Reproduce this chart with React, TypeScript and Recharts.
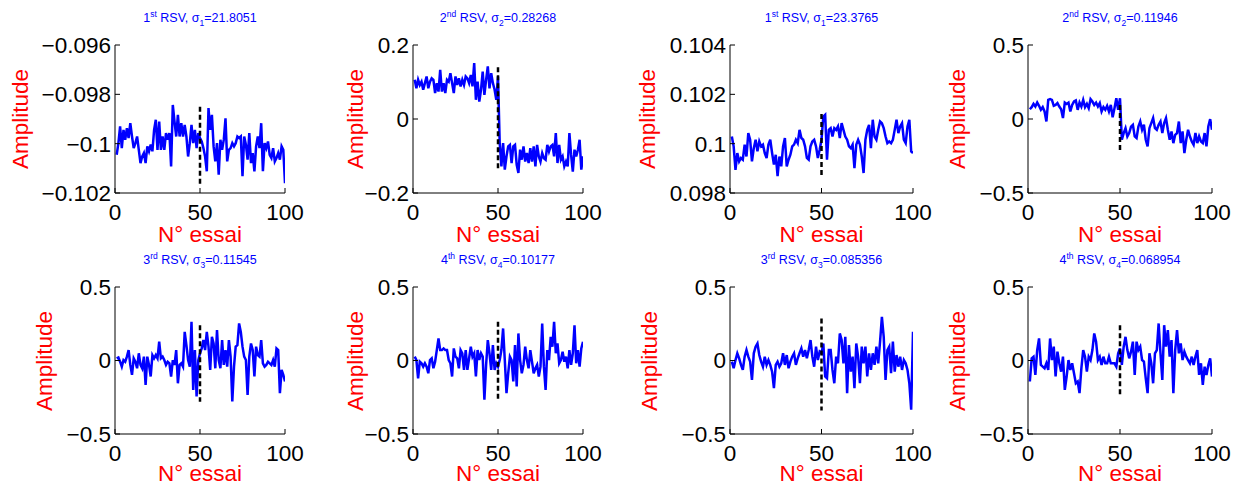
import React from 'react';
import { LineChart, Line, XAxis, YAxis } from 'recharts';

const FONT = '"Liberation Sans", Arial, Helvetica, sans-serif';

// trial numbers (categories)
const trials = Array.from({ length: 100 }, (_, i) => i + 1);
const xTicks = [0, 50, 100];
const xTickLabels = ['0', '50', '100'];
const changePoint = 50;

// y ticks / labels
const ticksRsv1Left = [-0.102, -0.1, -0.098, -0.096];
const labelsRsv1Left = ['−0.102', '−0.1', '−0.098', '−0.096'];
const ticksRsv2Left = [-0.2, 0, 0.2];
const labelsRsv2Left = ['−0.2', '0', '0.2'];
const ticksRsv1Right = [0.098, 0.1, 0.102, 0.104];
const labelsRsv1Right = ['0.098', '0.1', '0.102', '0.104'];
const ticksHalf = [-0.5, 0, 0.5];
const labelsHalf = ['−0.5', '0', '0.5'];

// titles
const ordinals = ['1', '2', '1', '2', '3', '4', '3', '4'];
const ordinalSuffix = ['st', 'nd', 'st', 'nd', 'rd', 'th', 'rd', 'th'];
const sigmaValues = ['21.8051', '0.28268', '23.3765', '0.11946', '0.11545', '0.10177', '0.085356', '0.068954'];

// dashed change-point marker spans [top, bottom]
const dashSpans = [
  [-0.0985, -0.1017],
  [0.14, -0.14],
  [0.1012, 0.0987],
  [0.095, -0.23],
  [0.24, -0.28],
  [0.263, -0.267],
  [0.285, -0.34],
  [0.24, -0.245],
];

const rsv1Left = [
  -0.10045, -0.09998, -0.0993, -0.10018, -0.09944, -0.09984, -0.09937, -0.09977, -0.09917, -0.09971,
  -0.10018, -0.09998, -0.09971, -0.10025, -0.10079, -0.10052, -0.10038, -0.10079, -0.10011, -0.10031,
  -0.10004, -0.10031, -0.09944, -0.09903, -0.10025, -0.0991, -0.10025, -0.09971, -0.10025, -0.09957,
  -0.09984, -0.09957, -0.10092, -0.09843, -0.0991, -0.09971, -0.09883, -0.09971, -0.09917, -0.09971,
  -0.09924, -0.09971, -0.10052, -0.09998, -0.09924, -0.09998, -0.09944, -0.10018, -0.09957, -0.09977,
  -0.09991, -0.10018, -0.10052, -0.10112, -0.09856, -0.09944, -0.09883, -0.10011, -0.10072, -0.09998,
  -0.10126, -0.09984, -0.10025, -0.09984, -0.09897, -0.10072, -0.10025, -0.10018, -0.09998, -0.10011,
  -0.09998, -0.09971, -0.09977, -0.09971, -0.10132, -0.09971, -0.10004, -0.10065, -0.09957, -0.10079,
  -0.10038, -0.10112, -0.10011, -0.09971, -0.10018, -0.09917, -0.10112, -0.09998, -0.10018, -0.09991,
  -0.10045, -0.10058, -0.10018, -0.10072, -0.10058, -0.10038, -0.10065, -0.10011, -0.10025, -0.1016,
];

const rsv2Left = [
  0.106, 0.083, 0.106, 0.092, 0.101, 0.079, 0.097, 0.115, 0.083, 0.101,
  0.11, 0.106, 0.07, 0.097, 0.074, 0.133, 0.074, 0.097, 0.07, 0.106,
  0.101, 0.124, 0.097, 0.07, 0.115, 0.092, 0.11, 0.088, 0.106, 0.092,
  0.115, 0.11, 0.097, 0.119, 0.088, 0.151, 0.052, 0.101, 0.047, 0.079,
  0.128, 0.065, 0.106, 0.142, 0.083, 0.124, 0.097, 0.079, 0.052, 0.115,
  -0.065, -0.128, -0.065, -0.137, -0.101, -0.074, -0.07, -0.119, -0.074, -0.07,
  -0.124, -0.146, -0.083, -0.11, -0.074, -0.115, -0.092, -0.119, -0.079, -0.115,
  -0.074, -0.128, -0.07, -0.101, -0.115, -0.092, -0.106, -0.11, -0.07, -0.088,
  -0.074, -0.07, -0.101, -0.038, -0.119, -0.07, -0.11, -0.101, -0.128, -0.115,
  -0.128, -0.038, -0.097, -0.142, -0.083, -0.101, -0.083, -0.056, -0.137, -0.101,
];

const rsv1Right = [
  0.10029, 0.09989, 0.09894, 0.09962, 0.09928, 0.09942, 0.09935, 0.09996, 0.09948, 0.10043,
  0.10016, 0.09928, 0.09982, 0.10016, 0.09969, 0.10009, 0.09989, 0.09996, 0.09962, 0.09942,
  0.09996, 0.10016, 0.09962, 0.09915, 0.09955, 0.09868, 0.09948, 0.09908, 0.09989, 0.10023,
  0.09908, 0.09935, 0.09955, 0.09989, 0.09996, 0.10016, 0.10002, 0.10056, 0.10023, 0.10016,
  0.09989, 0.09942, 0.09935, 0.09989, 0.10009, 0.10016, 0.09989, 0.09942, 0.09975, 0.10016,
  0.1011, 0.10117, 0.09935, 0.10056, 0.10063, 0.10029, 0.10063, 0.10056, 0.1007, 0.10023,
  0.10083, 0.10056, 0.10029, 0.10016, 0.09989, 0.09982, 0.09996, 0.09901, 0.09996, 0.10016,
  0.09996, 0.09948, 0.09881, 0.10016, 0.10056, 0.10076, 0.09982, 0.10097, 0.10029, 0.10016,
  0.10056, 0.1009, 0.10083, 0.10063, 0.10029, 0.10002, 0.10009, 0.10002, 0.10016, 0.10056,
  0.10097, 0.10043, 0.1007, 0.10083, 0.10016, 0.10002, 0.1007, 0.10097, 0.09969, 0.09962,
];

const rsv2Right = [
  0.066, 0.08, 0.102, 0.084, 0.111, 0.089, 0.062, 0.08, 0.051, -0.017,
  0.129, 0.134, 0.129, 0.089, 0.095, 0.107, 0.084, 0.066, 0.006, 0.111,
  0.102, 0.111, 0.051, 0.095, 0.118, 0.125, 0.062, 0.111, 0.084, 0.129,
  0.08, 0.102, 0.073, 0.134, 0.118, 0.095, 0.111, 0.084, 0.107, 0.051,
  0.08, 0.062, 0.089, 0.051, 0.095, 0.012, 0.073, 0.14, 0.062, 0.14,
  -0.14, -0.095, -0.062, -0.118, -0.095, -0.051, -0.039, -0.118, -0.129, -0.051,
  -0.017, -0.073, -0.039, -0.14, -0.185, -0.062, -0.028, 0.006, -0.062, -0.073,
  -0.039, -0.017, -0.095, -0.028, 0.006, -0.073, -0.14, -0.084, -0.163, -0.107,
  -0.095, -0.017, -0.163, -0.084, -0.23, -0.14, -0.073, -0.118, -0.152, -0.174,
  -0.095, -0.163, -0.118, -0.152, -0.163, -0.095, -0.185, -0.051, -0.001, -0.073,
];

const rsv3Left = [
  0.015, 0.021, -0.008, -0.042, 0.003, -0.008, 0.026, 0.071, -0.03, -0.098,
  0.015, -0.008, -0.053, 0.049, -0.03, -0.053, 0.026, -0.166, 0.026, -0.03,
  -0.109, 0.037, 0.015, 0.037, 0.015, 0.128, 0.015, 0.026, 0.003, -0.03,
  -0.008, -0.019, -0.109, 0.003, -0.03, 0.071, -0.155, -0.03, -0.019, -0.042,
  0.195, 0.105, 0.003, -0.042, 0.263, -0.2, 0.071, -0.245, 0.003, 0.049,
  0.082, 0.139, 0.071, 0.195, 0.094, -0.064, 0.161, 0.116, -0.053, 0.207,
  0.003, -0.053, 0.139, -0.03, 0.071, -0.042, 0.139, 0.026, -0.279, -0.042,
  0.094, 0.105, 0.252, 0.195, 0.094, 0.026, 0.003, -0.234, 0.026, 0.116,
  0.071, -0.109, 0.094, 0.037, 0.026, 0.139, -0.019, -0.042, -0.03, -0.008,
  -0.019, -0.03, 0.003, -0.042, 0.082, 0.071, -0.222, -0.064, -0.098, -0.143,
];

const rsv4Left = [
  0.026, 0.003, -0.121, -0.008, -0.019, -0.042, -0.019, -0.042, -0.087, 0.003,
  0.015, -0.053, -0.008, 0.071, 0.15, 0.071, 0.071, 0.082, 0.071, 0.071,
  0.003, -0.019, -0.109, 0.082, 0.026, 0.015, -0.053, 0.071, 0.049, -0.064,
  0.071, -0.064, 0.015, 0.094, 0.026, 0.049, -0.109, 0.071, 0.003, 0.049,
  0.026, -0.267, -0.03, 0.139, 0.049, -0.064, 0.105, -0.064, -0.019, -0.042,
  0.003, 0.071, 0.218, 0.003, -0.222, -0.087, 0.026, 0.003, -0.143, 0.105,
  -0.177, 0.184, 0.003, -0.087, -0.03, 0.094, 0.003, -0.053, 0.071, -0.008,
  -0.087, -0.053, -0.03, -0.109, -0.042, 0.252, -0.042, -0.2, 0.071, 0.003,
  0.161, 0.094, 0.263, 0.049, 0.116, -0.019, 0.003, 0.06, -0.008, 0.026,
  -0.053, 0.071, -0.03, 0.049, 0.24, -0.019, 0.071, -0.042, 0.082, 0.128,
];

const rsv3Right = [
  -0.008, -0.053, 0.003, 0.049, 0.015, -0.03, -0.064, 0.026, 0.071, 0.026,
  -0.008, -0.132, 0.049, 0.094, 0.116, 0.037, -0.008, -0.042, 0.026, -0.03,
  0.003, -0.03, -0.076, -0.188, -0.03, -0.008, -0.042, -0.019, 0.049, -0.03,
  0.037, -0.053, -0.008, 0.026, 0.049, -0.03, 0.015, 0.049, 0.082, 0.026,
  0.071, 0.015, 0.071, 0.139, 0.026, -0.042, 0.094, 0.003, 0.06, 0.049,
  0.116, -0.109, -0.121, 0.071, 0.071, -0.064, -0.155, 0.026, -0.019, 0.184,
  0.139, -0.019, 0.161, -0.222, 0.105, -0.076, 0.026, -0.188, 0.116, 0.026,
  -0.155, 0.094, -0.019, 0.094, -0.109, 0.049, -0.064, 0.049, -0.03, 0.094,
  -0.019, 0.128, 0.297, 0.161, -0.132, 0.071, 0.094, -0.087, 0.128, -0.076,
  0.037, -0.042, 0.026, -0.064, 0.003, -0.019, -0.064, -0.155, -0.335, 0.195,
];

const rsv4Right = [
  -0.143, 0.015, 0.026, -0.098, 0.071, 0.15, -0.03, -0.042, -0.053, -0.019,
  -0.064, 0.15, 0.003, 0.094, -0.109, 0.06, -0.019, -0.076, 0.026, -0.2,
  -0.109, 0.003, -0.064, -0.019, -0.087, -0.155, -0.143, -0.222, -0.053, 0.071,
  0.026, -0.076, 0.026, 0.003, 0.071, 0.184, 0.128, 0.003, 0.026, -0.03,
  0.026, -0.019, -0.019, 0.026, -0.019, -0.019, -0.019, -0.042, 0.049, 0.082,
  -0.03, 0.094, 0.161, 0.071, 0.015, 0.06, 0.128, -0.098, 0.128, 0.071,
  0.094, 0.003, -0.008, -0.121, -0.222, 0.049, -0.019, -0.155, 0.049, 0.071,
  0.252, 0.049, -0.132, 0.24, 0.094, 0.207, 0.026, 0.139, -0.222, 0.071,
  0.207, 0.049, 0.116, 0.003, 0.06, 0.026, 0.003, -0.019, 0.026, -0.03,
  0.026, 0.071, -0.098, -0.019, -0.166, -0.042, -0.098, -0.03, 0.015, -0.109,
];

// layout
const LEFT = 110;
const RIGHT = 25;
const TOP = 15;
const BOTTOM = 40;
const colBoxes = [
  [115, 285],
  [413, 583],
  [730, 913],
  [1028, 1212],
];
const rowBoxes = [
  [45, 193],
  [287, 434],
];
const titleY = [18, 260];
const xLabelY = [235, 474];
const yLabelX = [21, 356, 648, 958, 45, 356, 650, 958];

const seriesList = [rsv1Left, rsv2Left, rsv1Right, rsv2Right, rsv3Left, rsv4Left, rsv3Right, rsv4Right];
const tickList = [ticksRsv1Left, ticksRsv2Left, ticksRsv1Right, ticksHalf, ticksHalf, ticksHalf, ticksHalf, ticksHalf];
const labelList = [labelsRsv1Left, labelsRsv2Left, labelsRsv1Right, labelsHalf, labelsHalf, labelsHalf, labelsHalf, labelsHalf];

function Panel({ idx }: { idx: number }) {
  const row = idx < 4 ? 0 : 1;
  const col = idx % 4;
  const [x0, x1] = colBoxes[col];
  const [y0, y1] = rowBoxes[row];
  const w = x1 - x0 + LEFT + RIGHT;
  const h = y1 - y0 + TOP + BOTTOM;
  const values = seriesList[idx];
  const yTicks = tickList[idx];
  const yLabels = labelList[idx];
  const domain = [yTicks[0], yTicks[yTicks.length - 1]];
  const data = trials.map((t, i) => ({ x: t, y: values[i] }));
  const dash = [
    { x: changePoint, y: dashSpans[idx][0] },
    { x: changePoint, y: dashSpans[idx][1] },
  ];
  const cx = (x0 + x1) / 2;
  const cy = (y0 + y1) / 2;
  const tickStyle = { fill: '#000', fontSize: 22.5, fontFamily: FONT };
  return (
    <>
      <div style={{ position: 'absolute', left: x0 - LEFT, top: y0 - TOP, width: w, height: h }}>
        <LineChart width={w} height={h} data={data} margin={{ top: TOP, right: RIGHT, bottom: 0, left: 0 }}>
          <XAxis
            xAxisId="b"
            type="number"
            dataKey="x"
            domain={[0, 100]}
            ticks={xTicks}
            interval={0}
            allowDataOverflow
            height={BOTTOM}
            tickSize={-5}
            tickMargin={16}
            axisLine={{ stroke: '#000', strokeWidth: 1 }}
            tickLine={{ stroke: '#000', strokeWidth: 1 }}
            tick={tickStyle}
            tickFormatter={(v: number) => xTickLabels[xTicks.indexOf(v)] ?? String(v)}
          />
          <XAxis
            xAxisId="t"
            orientation="top"
            type="number"
            dataKey="x"
            domain={[0, 100]}
            ticks={xTicks}
            interval={0}
            allowDataOverflow
            height={0}
            tickSize={-5}
            tick={false}
            axisLine={{ stroke: '#000', strokeWidth: 1 }}
            tickLine={{ stroke: '#000', strokeWidth: 1 }}
          />
          <YAxis
            yAxisId="l"
            type="number"
            domain={domain}
            ticks={yTicks}
            interval={0}
            allowDataOverflow
            width={LEFT}
            tickSize={-5}
            tickMargin={9}
            axisLine={{ stroke: '#000', strokeWidth: 1 }}
            tickLine={{ stroke: '#000', strokeWidth: 1 }}
            tick={tickStyle}
            tickFormatter={(v: number) => yLabels[yTicks.indexOf(v)] ?? String(v)}
          />
          <YAxis
            yAxisId="r"
            orientation="right"
            type="number"
            domain={domain}
            ticks={yTicks}
            interval={0}
            allowDataOverflow
            width={0}
            tickSize={-5}
            tick={false}
            axisLine={{ stroke: '#000', strokeWidth: 1 }}
            tickLine={{ stroke: '#000', strokeWidth: 1 }}
          />
          <Line
            xAxisId="b"
            yAxisId="l"
            type="linear"
            dataKey="y"
            stroke="#0000ff"
            strokeWidth={2.5}
            dot={false}
            activeDot={false}
            isAnimationActive={false}
          />
          <Line
            xAxisId="b"
            yAxisId="l"
            type="linear"
            data={dash}
            dataKey="y"
            stroke="#000"
            strokeWidth={2.5}
            strokeDasharray="5 3"
            dot={false}
            activeDot={false}
            isAnimationActive={false}
          />
        </LineChart>
      </div>
      <div
        style={{
          position: 'absolute',
          left: cx,
          top: titleY[row],
          transform: 'translate(-50%, -50%)',
          whiteSpace: 'nowrap',
          fontFamily: FONT,
          fontSize: 12.5,
          color: '#0000ff',
          lineHeight: '14px',
        }}
      >
        {ordinals[idx]}
        <span style={{ fontSize: 8.5, position: 'relative', top: -5 }}>{ordinalSuffix[idx]}</span> RSV, σ
        <span style={{ fontSize: 8.5, position: 'relative', top: 4 }}>{ordinals[idx]}</span>={sigmaValues[idx]}
      </div>
      <div
        style={{
          position: 'absolute',
          left: yLabelX[idx],
          top: cy,
          transform: 'translate(-50%, -50%) rotate(-90deg)',
          whiteSpace: 'nowrap',
          fontFamily: FONT,
          fontSize: 22.5,
          color: '#ff0000',
          lineHeight: '20px',
        }}
      >
        Amplitude
      </div>
      <div
        style={{
          position: 'absolute',
          left: cx,
          top: xLabelY[row],
          transform: 'translate(-50%, -50%)',
          whiteSpace: 'nowrap',
          fontFamily: FONT,
          fontSize: 22.5,
          color: '#ff0000',
          lineHeight: '18px',
        }}
      >
        N° essai
      </div>
    </>
  );
}

export default function App() {
  return (
    <div
      style={{
        position: 'absolute',
        left: 0,
        top: 0,
        width: 1243,
        height: 489,
        background: '#fff',
        overflow: 'hidden',
      }}
    >
      {[0, 1, 2, 3, 4, 5, 6, 7].map((i) => (
        <Panel key={i} idx={i} />
      ))}
    </div>
  );
}
